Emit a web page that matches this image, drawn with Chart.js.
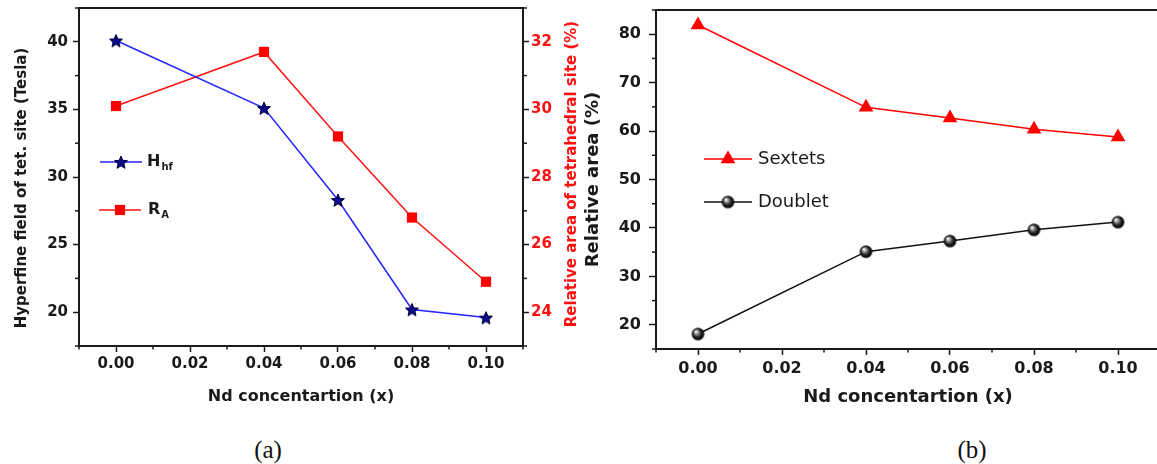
<!DOCTYPE html>
<html>
<head>
<meta charset="utf-8">
<script src="https://cdn.jsdelivr.net/npm/chart.js@4.4.1/dist/chart.umd.min.js"></script>
<style>
  html, body { margin: 0; padding: 0; background: #fff; overflow: hidden; }
  body { width: 1157px; height: 464px; position: relative; }
  #wrapA { position: absolute; left: 0; top: 0; width: 600px; height: 420px; }
  #wrapB { position: absolute; left: 575px; top: 0; width: 600px; height: 420px; }
  .cap { position: absolute; font-family: "Liberation Serif", serif; font-size: 25px; color: #111;
         transform: translate(-50%, -50%); }
</style>
</head>
<body>
<div id="wrapA"><canvas id="chartA" width="600" height="420"></canvas></div>
<div id="wrapB"><canvas id="chartB" width="600" height="420"></canvas></div>
<div class="cap" style="left:268px; top:450px">(a)</div>
<div class="cap" style="left:972px; top:450px">(b)</div>
<script>
// Nd content on both panels
const ndX = [0, 0.04, 0.06, 0.08, 0.10];
// panel (a)
const hhf = [40.1, 35.1, 28.3, 20.2, 19.6];      // Tesla
const ra = [30.1, 31.7, 29.2, 26.8, 24.9];        // %
// panel (b)
const sextets = [81.9, 64.9, 62.7, 60.4, 58.8];
const doublet = [18.1, 35.1, 37.3, 39.6, 41.2];

const xTicks = [0, 0.02, 0.04, 0.06, 0.08, 0.10];
const xMinor = [-0.01, 0.01, 0.03, 0.05, 0.07, 0.09, 0.11];
const hhfTicks = [20, 25, 30, 35, 40];
const hhfMinor = [17.5, 22.5, 27.5, 32.5, 37.5, 42.5];
const raTicks = [24, 26, 28, 30, 32];
const raMinor = [23, 25, 27, 29, 31, 33];
const areaTicks = [20, 30, 40, 50, 60, 70, 80];
const areaMinor = [15, 25, 35, 45, 55, 65, 75, 85];

const FONT = '"DejaVu Sans", sans-serif';
const INK = '#1a1a1a';

function pts(ys) { return ndX.map((x, i) => ({ x: x, y: ys[i] })); }

function makeStar(r, fill, stroke) {
    const c = document.createElement('canvas');
    const size = Math.ceil(r * 2 + 4);
    c.width = c.height = size;
    const g = c.getContext('2d');
    const cx = size / 2, cy = size / 2 + 0.8;
    g.beginPath();
    for (let i = 0; i < 10; i++) {
        const rr = i % 2 ? r * 0.45 : r;
        const a = -Math.PI / 2 + i * Math.PI / 5;
        g.lineTo(cx + rr * Math.cos(a), cy + rr * Math.sin(a));
    }
    g.closePath();
    g.fillStyle = fill; g.fill();
    g.lineWidth = 1; g.strokeStyle = stroke; g.stroke();
    return c;
}

function makeBall(r) {
    const c = document.createElement('canvas');
    const size = Math.ceil(r * 2 + 2);
    c.width = c.height = size;
    const g = c.getContext('2d');
    const cx = size / 2, cy = size / 2;
    const grad = g.createRadialGradient(cx - r * 0.35, cy - r * 0.4, 0.5, cx, cy, r);
    grad.addColorStop(0, '#ffffff');
    grad.addColorStop(0.3, '#8a8a8a');
    grad.addColorStop(0.65, '#1e1e1e');
    grad.addColorStop(1, '#000000');
    g.beginPath();
    g.arc(cx, cy, r, 0, Math.PI * 2);
    g.fillStyle = grad; g.fill();
    return c;
}

const starImg = makeStar(6.8, '#0a0a8a', '#000033');
const ballImg = makeBall(6.3);

function fixedTicks(list) {
    return s => { s.ticks = list.map(v => ({ value: v })); };
}
function fixSize(prop, val) {
    return s => {
        s[prop] = val;
        s.paddingTop = s.paddingBottom = s.paddingLeft = s.paddingRight = 0;
    };
}

// box round the plot plus short minor ticks
const framePlugin = {
    id: 'frame',
    afterDraw(chart, args, opts) {
        const { ctx, chartArea: a } = chart;
        ctx.save();
        ctx.strokeStyle = INK;
        ctx.lineWidth = 2;
        ctx.strokeRect(a.left, a.top, a.right - a.left, a.bottom - a.top);
        ctx.lineWidth = 1.5;
        (opts.minor || []).forEach(m => {
            const s = chart.scales[m.scale];
            m.values.forEach(v => {
                const p = s.getPixelForValue(v);
                ctx.beginPath();
                if (m.side === 'bottom') { ctx.moveTo(p, a.bottom); ctx.lineTo(p, a.bottom + m.len); }
                else if (m.side === 'left') { ctx.moveTo(a.left, p); ctx.lineTo(a.left - m.len, p); }
                else { ctx.moveTo(a.right, p); ctx.lineTo(a.right + m.len, p); }
                ctx.stroke();
            });
        });
        ctx.restore();
    }
};

// in-plot legend: line + marker + label (with optional subscript)
const boxLegend = {
    id: 'boxLegend',
    afterDraw(chart, args, opts) {
        const { ctx, chartArea: a } = chart;
        const drawPoint = Chart.helpers && Chart.helpers.drawPoint;
        (opts.items || []).forEach(it => {
            const ds = chart.data.datasets[it.index];
            const x0 = a.left + it.dx, y = a.top + it.dy;
            ctx.save();
            ctx.strokeStyle = ds.borderColor;
            ctx.lineWidth = ds.borderWidth;
            ctx.beginPath();
            ctx.moveTo(x0, y); ctx.lineTo(x0 + it.len, y);
            ctx.stroke();
            ctx.fillStyle = ds.pointBackgroundColor;
            ctx.strokeStyle = ds.pointBorderColor;
            if (drawPoint) {
                drawPoint(ctx, { pointStyle: ds.pointStyle, radius: ds.pointRadius, rotation: 0, borderWidth: ds.pointBorderWidth }, x0 + it.len / 2, y);
            }
            ctx.fillStyle = INK;
            ctx.textBaseline = 'middle';
            ctx.textAlign = 'left';
            ctx.font = it.font;
            const tx = x0 + it.len + it.gap;
            ctx.fillText(it.text, tx, y);
            if (it.sub) {
                const w = ctx.measureText(it.text).width;
                ctx.font = it.subFont;
                ctx.fillText(it.sub, tx + w + 1, y + 5);
            }
            ctx.restore();
        });
    }
};

// rotated axis titles that read bottom to top
const sideTitles = {
    id: 'sideTitles',
    afterDraw(chart, args, opts) {
        const ctx = chart.ctx;
        (opts.items || []).forEach(t => {
            ctx.save();
            ctx.translate(t.x, t.y);
            ctx.rotate(-Math.PI / 2);
            ctx.font = t.font;
            ctx.fillStyle = t.color;
            ctx.textAlign = 'center';
            ctx.textBaseline = 'middle';
            ctx.fillText(t.text, 0, 0);
            ctx.restore();
        });
    }
};

const tickGrid = len => ({ display: true, drawOnChartArea: false, drawTicks: true, tickLength: len, tickWidth: 1.5, tickColor: INK });

// ---------- panel (a) ----------
new Chart(document.getElementById('chartA').getContext('2d'), {
    type: 'line',
    data: {
        datasets: [{
            label: 'Hhf',
            data: pts(hhf),
            yAxisID: 'y',
            borderColor: '#2424ff',
            borderWidth: 1.5,
            pointStyle: starImg,
            pointRadius: 7,
            pointBackgroundColor: '#0a0a8a',
            pointBorderColor: '#000033',
            pointBorderWidth: 0,
            tension: 0
        }, {
            label: 'RA',
            data: pts(ra),
            yAxisID: 'y1',
            borderColor: '#ff1414',
            borderWidth: 1.5,
            pointStyle: 'rect',
            pointRadius: 7.2,
            pointBackgroundColor: '#ff0000',
            pointBorderColor: '#ff0000',
            pointBorderWidth: 0,
            tension: 0
        }]
    },
    options: {
        responsive: false,
        animation: false,
        events: [],
        layout: { padding: { left: 0, right: 0, top: 8, bottom: 0 } },
        plugins: {
            legend: { display: false },
            tooltip: { enabled: false },
            frame: {
                minor: [
                    { scale: 'x', side: 'bottom', len: 3.5, values: xMinor },
                    { scale: 'y', side: 'left', len: 4, values: hhfMinor },
                    { scale: 'y1', side: 'right', len: 4, values: raMinor }
                ]
            },
            boxLegend: {
                items: [
                    { index: 0, dx: 21, dy: 154, len: 42, gap: 5, text: 'H', sub: 'hf', font: 'bold 16px ' + FONT, subFont: 'bold 10px ' + FONT },
                    { index: 1, dx: 20, dy: 202, len: 42, gap: 7, text: 'R', sub: 'A', font: 'bold 16px ' + FONT, subFont: 'bold 10px ' + FONT }
                ]
            },
            sideTitles: {
                items: [
                    { text: 'Hyperfine field of tet. site (Tesla)', x: 22, y: 188, color: INK, font: 'bold 15px ' + FONT },
                    { text: 'Relative area of tetrahedral site (%)', x: 572, y: 174, color: '#ff1010', font: 'bold 15px ' + FONT }
                ]
            }
        },
        scales: {
            x: {
                type: 'linear',
                position: 'bottom',
                min: -0.01,
                max: 0.11,
                afterBuildTicks: fixedTicks(xTicks),
                afterFit: fixSize('height', 74),
                grid: tickGrid(6),
                border: { display: false },
                ticks: { color: INK, font: { family: FONT, size: 15, weight: 'bold' }, padding: 3, autoSkip: false, maxRotation: 0, callback: v => v.toFixed(2) },
                title: { display: true, text: 'Nd concentartion (x)', color: INK, font: { family: FONT, size: 16, weight: 'bold' }, padding: { top: 0, bottom: 14 } }
            },
            y: {
                position: 'left',
                min: 17.5,
                max: 42.5,
                afterBuildTicks: fixedTicks(hhfTicks),
                afterFit: fixSize('width', 79),
                grid: tickGrid(6),
                border: { display: false },
                ticks: { color: INK, font: { family: FONT, size: 15, weight: 'bold' }, padding: 5, autoSkip: false }
            },
            y1: {
                position: 'right',
                min: 23,
                max: 33,
                afterBuildTicks: fixedTicks(raTicks),
                afterFit: fixSize('width', 77),
                grid: tickGrid(6),
                border: { display: false },
                ticks: { color: '#ff1010', font: { family: FONT, size: 15, weight: 'bold' }, padding: 2, autoSkip: false }
            }
        }
    },
    plugins: [framePlugin, boxLegend, sideTitles]
});

// ---------- panel (b) ----------
new Chart(document.getElementById('chartB').getContext('2d'), {
    type: 'line',
    data: {
        datasets: [{
            label: 'Sextets',
            data: pts(sextets),
            borderColor: '#ff0000',
            borderWidth: 1.5,
            pointStyle: 'triangle',
            pointRadius: 8.5,
            pointBackgroundColor: '#ff0000',
            pointBorderColor: '#ff0000',
            pointBorderWidth: 0,
            tension: 0
        }, {
            label: 'Doublet',
            data: pts(doublet),
            borderColor: '#111111',
            borderWidth: 1.5,
            pointStyle: ballImg,
            pointRadius: 6.3,
            pointBackgroundColor: '#000',
            pointBorderColor: '#000',
            pointBorderWidth: 0,
            tension: 0
        }]
    },
    options: {
        responsive: false,
        animation: false,
        events: [],
        layout: { padding: { left: 0, right: 15, top: 10, bottom: 0 } },
        plugins: {
            legend: { display: false },
            tooltip: { enabled: false },
            frame: {
                minor: [
                    { scale: 'x', side: 'bottom', len: 3.5, values: xMinor },
                    { scale: 'y', side: 'left', len: 4, values: areaMinor }
                ]
            },
            boxLegend: {
                items: [
                    { index: 0, dx: 48, dy: 149, len: 48, gap: 6, text: 'Sextets', font: '18px ' + FONT },
                    { index: 1, dx: 48, dy: 192, len: 48, gap: 6, text: 'Doublet', font: '18px ' + FONT }
                ]
            }
        },
        scales: {
            x: {
                type: 'linear',
                position: 'bottom',
                min: -0.01,
                max: 0.11,
                afterBuildTicks: fixedTicks(xTicks),
                afterFit: fixSize('height', 71),
                grid: tickGrid(6),
                border: { display: false },
                ticks: { color: INK, font: { family: FONT, size: 16, weight: 'bold' }, padding: 4, autoSkip: false, maxRotation: 0, callback: v => v.toFixed(2) },
                title: { display: true, text: 'Nd concentartion (x)', color: INK, font: { family: FONT, size: 18, weight: 'bold' }, padding: { top: 0, bottom: 12 } }
            },
            y: {
                position: 'left',
                min: 15,
                max: 85,
                afterBuildTicks: fixedTicks(areaTicks),
                afterFit: fixSize('width', 81),
                grid: tickGrid(7),
                border: { display: false },
                ticks: { color: INK, font: { family: FONT, size: 16, weight: 'bold' }, padding: 8, autoSkip: false },
                title: { display: true, text: 'Relative area (%)', color: INK, font: { family: FONT, size: 18, weight: 'bold' }, padding: { top: 8, bottom: 0 } }
            }
        }
    },
    plugins: [framePlugin, boxLegend]
});
</script>
</body>
</html>
